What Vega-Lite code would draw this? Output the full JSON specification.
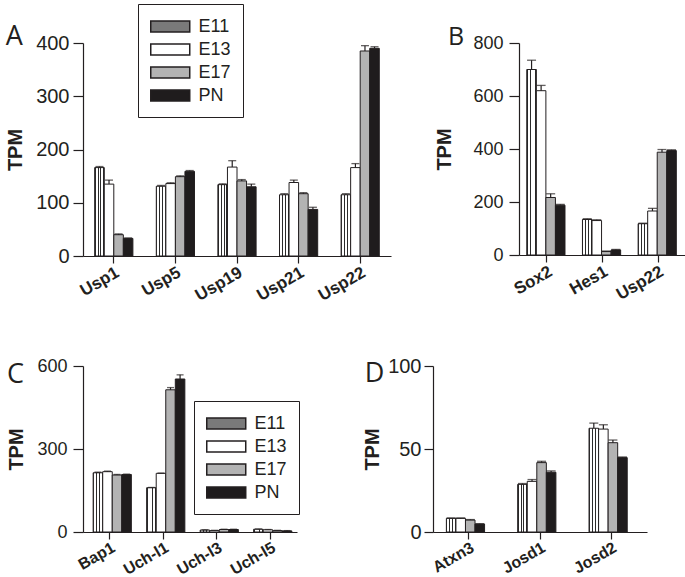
{
  "$schema": "https://vega.github.io/schema/vega-lite/v6.json",
  "padding": {"left": 5, "top": 3, "right": 0, "bottom": 0},
  "background": "white",
  "config": {
    "font": "Liberation Sans",
    "view": {"stroke": null},
    "axis": {"labelFont": "Liberation Sans", "titleFont": "Liberation Sans", "domainColor": "#231f20", "tickColor": "#231f20", "labelColor": "#231f20", "titleColor": "#231f20", "domainWidth": 1.2, "tickWidth": 1.2, "grid": false},
    "axisX": {"labelAngle": -30, "labelAlign": "right", "labelBaseline": "top", "labelFontWeight": "bold", "labelFontSize": 17, "tickSize": 7, "labelPadding": 1, "title": null},
    "axisY": {"labelFontSize": 18, "tickSize": 10, "labelPadding": 5, "titleFontSize": 20, "titleFontWeight": "bold", "titlePadding": 12},
    "title": {"font": "Open Sans", "fontWeight": "normal", "color": "#231f20", "anchor": "start", "frame": "bounds", "baseline": "alphabetic", "offset": 4},
    "legend": {"orient": "none", "strokeColor": "#231f20", "strokeWidth": 1, "padding": 12, "title": null, "labelFont": "Liberation Sans", "labelFontSize": 18, "labelColor": "#231f20", "labelOffset": 27.5, "rowPadding": 3, "symbolType": "M-1,-0.56L3,-0.56L3,0.56L-1,0.56Z", "symbolSize": 380}
  },
  "datasets": {
    "tpm": [
      {"panel": "A", "gene": "Usp1", "stage": "E11", "value": 166, "hi": 168},
      {"panel": "A", "gene": "Usp1", "stage": "E13", "value": 135, "hi": 142.5},
      {"panel": "A", "gene": "Usp1", "stage": "E17", "value": 40, "hi": 41.5},
      {"panel": "A", "gene": "Usp1", "stage": "PN", "value": 33, "hi": 34},
      {"panel": "A", "gene": "Usp5", "stage": "E11", "value": 131, "hi": 132.5},
      {"panel": "A", "gene": "Usp5", "stage": "E13", "value": 136, "hi": 137.5},
      {"panel": "A", "gene": "Usp5", "stage": "E17", "value": 149, "hi": 150.5},
      {"panel": "A", "gene": "Usp5", "stage": "PN", "value": 159, "hi": 160.5},
      {"panel": "A", "gene": "Usp19", "stage": "E11", "value": 134, "hi": 135.5},
      {"panel": "A", "gene": "Usp19", "stage": "E13", "value": 167, "hi": 179},
      {"panel": "A", "gene": "Usp19", "stage": "E17", "value": 141, "hi": 143.5},
      {"panel": "A", "gene": "Usp19", "stage": "PN", "value": 130, "hi": 135},
      {"panel": "A", "gene": "Usp21", "stage": "E11", "value": 115, "hi": 117},
      {"panel": "A", "gene": "Usp21", "stage": "E13", "value": 138, "hi": 142.5},
      {"panel": "A", "gene": "Usp21", "stage": "E17", "value": 117, "hi": 119},
      {"panel": "A", "gene": "Usp21", "stage": "PN", "value": 87.5, "hi": 91.5},
      {"panel": "A", "gene": "Usp22", "stage": "E11", "value": 115, "hi": 117},
      {"panel": "A", "gene": "Usp22", "stage": "E13", "value": 166, "hi": 173.5},
      {"panel": "A", "gene": "Usp22", "stage": "E17", "value": 385, "hi": 395},
      {"panel": "A", "gene": "Usp22", "stage": "PN", "value": 390, "hi": 393},
      {"panel": "B", "gene": "Sox2", "stage": "E11", "value": 700, "hi": 735},
      {"panel": "B", "gene": "Sox2", "stage": "E13", "value": 620, "hi": 640},
      {"panel": "B", "gene": "Sox2", "stage": "E17", "value": 217, "hi": 231},
      {"panel": "B", "gene": "Sox2", "stage": "PN", "value": 188, "hi": 191},
      {"panel": "B", "gene": "Hes1", "stage": "E11", "value": 134, "hi": 137},
      {"panel": "B", "gene": "Hes1", "stage": "E13", "value": 130, "hi": 133},
      {"panel": "B", "gene": "Hes1", "stage": "E17", "value": 13, "hi": 15},
      {"panel": "B", "gene": "Hes1", "stage": "PN", "value": 19, "hi": 21},
      {"panel": "B", "gene": "Usp22", "stage": "E11", "value": 118, "hi": 120},
      {"panel": "B", "gene": "Usp22", "stage": "E13", "value": 166, "hi": 176},
      {"panel": "B", "gene": "Usp22", "stage": "E17", "value": 388, "hi": 398},
      {"panel": "B", "gene": "Usp22", "stage": "PN", "value": 394, "hi": 397},
      {"panel": "C", "gene": "Bap1", "stage": "E11", "value": 214, "hi": 216},
      {"panel": "C", "gene": "Bap1", "stage": "E13", "value": 218, "hi": 220},
      {"panel": "C", "gene": "Bap1", "stage": "E17", "value": 206, "hi": 208},
      {"panel": "C", "gene": "Bap1", "stage": "PN", "value": 208, "hi": 209},
      {"panel": "C", "gene": "Uch-l1", "stage": "E11", "value": 160, "hi": 161},
      {"panel": "C", "gene": "Uch-l1", "stage": "E13", "value": 212, "hi": 213},
      {"panel": "C", "gene": "Uch-l1", "stage": "E17", "value": 514, "hi": 522},
      {"panel": "C", "gene": "Uch-l1", "stage": "PN", "value": 553, "hi": 568},
      {"panel": "C", "gene": "Uch-l3", "stage": "E11", "value": 7, "hi": 8},
      {"panel": "C", "gene": "Uch-l3", "stage": "E13", "value": 5, "hi": 6},
      {"panel": "C", "gene": "Uch-l3", "stage": "E17", "value": 9, "hi": 10},
      {"panel": "C", "gene": "Uch-l3", "stage": "PN", "value": 9, "hi": 10},
      {"panel": "C", "gene": "Uch-l5", "stage": "E11", "value": 10, "hi": 11},
      {"panel": "C", "gene": "Uch-l5", "stage": "E13", "value": 8, "hi": 9},
      {"panel": "C", "gene": "Uch-l5", "stage": "E17", "value": 5, "hi": 6},
      {"panel": "C", "gene": "Uch-l5", "stage": "PN", "value": 4, "hi": 5},
      {"panel": "D", "gene": "Atxn3", "stage": "E11", "value": 8.2, "hi": 8.5},
      {"panel": "D", "gene": "Atxn3", "stage": "E13", "value": 8.2, "hi": 8.5},
      {"panel": "D", "gene": "Atxn3", "stage": "E17", "value": 7.2, "hi": 7.5},
      {"panel": "D", "gene": "Atxn3", "stage": "PN", "value": 4.8, "hi": 5},
      {"panel": "D", "gene": "Josd1", "stage": "E11", "value": 28.7, "hi": 29.2},
      {"panel": "D", "gene": "Josd1", "stage": "E13", "value": 30.5, "hi": 31.6},
      {"panel": "D", "gene": "Josd1", "stage": "E17", "value": 41.8, "hi": 42.6},
      {"panel": "D", "gene": "Josd1", "stage": "PN", "value": 36, "hi": 36.8},
      {"panel": "D", "gene": "Josd2", "stage": "E11", "value": 62.5, "hi": 65.6},
      {"panel": "D", "gene": "Josd2", "stage": "E13", "value": 62, "hi": 64.6},
      {"panel": "D", "gene": "Josd2", "stage": "E17", "value": 53.8, "hi": 55.4},
      {"panel": "D", "gene": "Josd2", "stage": "PN", "value": 44.8, "hi": 45.2}
    ]
  },
  "resolve": {"scale": {"fill": "independent"}, "legend": {"fill": "independent"}},
  "spacing": 52,
  "vconcat": [
    {
      "spacing": 43,
      "resolve": {"scale": {"fill": "independent"}, "legend": {"fill": "independent"}},
      "hconcat": [
        {
          "data": {"name": "tpm"},
          "transform": [{"filter": "datum.panel === 'A'"}],
          "width": 308, "height": 213,
          "title": {"text": "A", "fontSize": 27, "dy": 51},
          "encoding": {"x": {"field": "gene", "type": "nominal", "sort": null, "scale": {"paddingInner": 0.38, "paddingOuter": 0.19}}},
          "layer": [
            {
              "mark": {"type": "bar", "stroke": "#231f20", "strokeWidth": 1},
              "encoding": {
                "xOffset": {"field": "stage", "type": "nominal", "sort": null, "scale": {"paddingInner": 0, "paddingOuter": 0}},
                "y": {"field": "value", "type": "quantitative", "scale": {"domain": [0, 400]}, "axis": {"title": "TPM", "values": [0, 100, 200, 300, 400], "labelFontSize": 20, "labelPadding": 4, "titlePadding": 10}},
                "fill": {"condition": {"test": "datum.stage === 'E11'", "value": {"gradient": "linear", "x1": 0, "y1": 0, "x2": 1, "y2": 0, "stops": [{"offset": 0, "color": "#2b2b2b"}, {"offset": 0.1, "color": "#2b2b2b"}, {"offset": 0.1, "color": "#ffffff"}, {"offset": 0.3, "color": "#ffffff"}, {"offset": 0.3, "color": "#2b2b2b"}, {"offset": 0.4, "color": "#2b2b2b"}, {"offset": 0.4, "color": "#ffffff"}, {"offset": 0.6, "color": "#ffffff"}, {"offset": 0.6, "color": "#2b2b2b"}, {"offset": 0.7, "color": "#2b2b2b"}, {"offset": 0.7, "color": "#ffffff"}, {"offset": 0.9, "color": "#ffffff"}, {"offset": 0.9, "color": "#2b2b2b"}, {"offset": 1, "color": "#2b2b2b"}]}}, "field": "stage", "type": "nominal", "scale": {"domain": ["E11", "E13", "E17", "PN"], "range": ["#7a7a7a", "#ffffff", "#b3b3b3", "#1f1c1d"]}, "legend": {"legendX": 55, "legendY": -39, "encode": {"symbols": {"stroke": {"value": "#231f20"}, "strokeWidth": {"value": 1}}}}}
              }
            },
            {
              "mark": {"type": "rule", "stroke": "#231f20", "strokeWidth": 1.2},
              "encoding": {"xOffset": {"field": "stage", "type": "nominal", "sort": null, "scale": {"paddingInner": 0, "paddingOuter": 0}}, "y": {"field": "value", "type": "quantitative"}, "y2": {"field": "hi"}}
            },
            {
              "mark": {"type": "tick", "orient": "horizontal", "color": "#231f20", "thickness": 1.3, "size": 8},
              "encoding": {"xOffset": {"field": "stage", "type": "nominal", "sort": null, "scale": {"paddingInner": 0, "paddingOuter": 0}}, "y": {"field": "hi", "type": "quantitative"}}
            }
          ]
        },
        {
          "data": {"name": "tpm"},
          "transform": [{"filter": "datum.panel === 'B'"}],
          "width": 167, "height": 212,
          "title": {"text": "B", "fontSize": 25, "dy": 20, "dx": 13},
          "encoding": {"x": {"field": "gene", "type": "nominal", "sort": null, "scale": {"paddingInner": 0.28, "paddingOuter": 0.14}}},
          "layer": [
            {
              "mark": {"type": "bar", "stroke": "#231f20", "strokeWidth": 1},
              "encoding": {
                "xOffset": {"field": "stage", "type": "nominal", "sort": null, "scale": {"paddingInner": 0, "paddingOuter": 0}},
                "y": {"field": "value", "type": "quantitative", "scale": {"domain": [0, 800]}, "axis": {"title": "TPM", "values": [0, 200, 400, 600, 800], "labelPadding": 6, "titlePadding": 18}},
                "fill": {"condition": {"test": "datum.stage === 'E11'", "value": {"gradient": "linear", "x1": 0, "y1": 0, "x2": 1, "y2": 0, "stops": [{"offset": 0, "color": "#2b2b2b"}, {"offset": 0.1, "color": "#2b2b2b"}, {"offset": 0.1, "color": "#ffffff"}, {"offset": 0.3, "color": "#ffffff"}, {"offset": 0.3, "color": "#2b2b2b"}, {"offset": 0.4, "color": "#2b2b2b"}, {"offset": 0.4, "color": "#ffffff"}, {"offset": 0.6, "color": "#ffffff"}, {"offset": 0.6, "color": "#2b2b2b"}, {"offset": 0.7, "color": "#2b2b2b"}, {"offset": 0.7, "color": "#ffffff"}, {"offset": 0.9, "color": "#ffffff"}, {"offset": 0.9, "color": "#2b2b2b"}, {"offset": 1, "color": "#2b2b2b"}]}}, "field": "stage", "type": "nominal", "scale": {"domain": ["E11", "E13", "E17", "PN"], "range": ["#7a7a7a", "#ffffff", "#b3b3b3", "#1f1c1d"]}, "legend": null}
              }
            },
            {
              "mark": {"type": "rule", "stroke": "#231f20", "strokeWidth": 1.2},
              "encoding": {"xOffset": {"field": "stage", "type": "nominal", "sort": null, "scale": {"paddingInner": 0, "paddingOuter": 0}}, "y": {"field": "value", "type": "quantitative"}, "y2": {"field": "hi"}}
            },
            {
              "mark": {"type": "tick", "orient": "horizontal", "color": "#231f20", "thickness": 1.3, "size": 9},
              "encoding": {"xOffset": {"field": "stage", "type": "nominal", "sort": null, "scale": {"paddingInner": 0, "paddingOuter": 0}}, "y": {"field": "hi", "type": "quantitative"}}
            }
          ]
        }
      ]
    },
    {
      "spacing": 62,
      "resolve": {"scale": {"fill": "independent"}, "legend": {"fill": "independent"}},
      "hconcat": [
        {
          "data": {"name": "tpm"},
          "transform": [{"filter": "datum.panel === 'C'"}],
          "width": 214, "height": 166,
          "title": {"text": "C", "fontSize": 27, "dy": 36},
          "encoding": {"x": {"field": "gene", "type": "nominal", "sort": null, "scale": {"paddingInner": 0.38, "paddingOuter": 0.19}, "axis": {"labelFontSize": 16, "labelPadding": 0}}},
          "layer": [
            {
              "mark": {"type": "bar", "stroke": "#231f20", "strokeWidth": 1},
              "encoding": {
                "xOffset": {"field": "stage", "type": "nominal", "sort": null, "scale": {"paddingInner": 0, "paddingOuter": 0}},
                "y": {"field": "value", "type": "quantitative", "scale": {"domain": [0, 600]}, "axis": {"title": "TPM", "values": [0, 300, 600], "labelPadding": 6, "titlePadding": 10}},
                "fill": {"condition": {"test": "datum.stage === 'E11'", "value": {"gradient": "linear", "x1": 0, "y1": 0, "x2": 1, "y2": 0, "stops": [{"offset": 0, "color": "#2b2b2b"}, {"offset": 0.1, "color": "#2b2b2b"}, {"offset": 0.1, "color": "#ffffff"}, {"offset": 0.3, "color": "#ffffff"}, {"offset": 0.3, "color": "#2b2b2b"}, {"offset": 0.4, "color": "#2b2b2b"}, {"offset": 0.4, "color": "#ffffff"}, {"offset": 0.6, "color": "#ffffff"}, {"offset": 0.6, "color": "#2b2b2b"}, {"offset": 0.7, "color": "#2b2b2b"}, {"offset": 0.7, "color": "#ffffff"}, {"offset": 0.9, "color": "#ffffff"}, {"offset": 0.9, "color": "#2b2b2b"}, {"offset": 1, "color": "#2b2b2b"}]}}, "field": "stage", "type": "nominal", "scale": {"domain": ["E11", "E13", "E17", "PN"], "range": ["#7a7a7a", "#ffffff", "#b3b3b3", "#1f1c1d"]}, "legend": {"legendX": 111, "legendY": 35, "encode": {"symbols": {"stroke": {"value": "#231f20"}, "strokeWidth": {"value": 1}}}}}
              }
            },
            {
              "mark": {"type": "rule", "stroke": "#231f20", "strokeWidth": 1.2},
              "encoding": {"xOffset": {"field": "stage", "type": "nominal", "sort": null, "scale": {"paddingInner": 0, "paddingOuter": 0}}, "y": {"field": "value", "type": "quantitative"}, "y2": {"field": "hi"}}
            },
            {
              "mark": {"type": "tick", "orient": "horizontal", "color": "#231f20", "thickness": 1.3, "size": 7},
              "encoding": {"xOffset": {"field": "stage", "type": "nominal", "sort": null, "scale": {"paddingInner": 0, "paddingOuter": 0}}, "y": {"field": "hi", "type": "quantitative"}}
            }
          ]
        },
        {
          "data": {"name": "tpm"},
          "transform": [{"filter": "datum.panel === 'D'"}],
          "width": 214, "height": 166,
          "title": {"text": "D", "fontSize": 27, "dy": 36, "dx": 2},
          "encoding": {"x": {"field": "gene", "type": "nominal", "sort": null, "scale": {"paddingInner": 0.375, "paddingOuter": 0.1875}, "axis": {"labelFontSize": 16, "labelPadding": 0}}},
          "layer": [
            {
              "mark": {"type": "bar", "stroke": "#231f20", "strokeWidth": 1},
              "encoding": {
                "xOffset": {"field": "stage", "type": "nominal", "sort": null, "scale": {"paddingInner": 0, "paddingOuter": 0}},
                "y": {"field": "value", "type": "quantitative", "scale": {"domain": [0, 100]}, "axis": {"title": "TPM", "values": [0, 50, 100], "labelFontSize": 20, "tickSize": 9, "labelPadding": 3, "titlePadding": 5}},
                "fill": {"condition": {"test": "datum.stage === 'E11'", "value": {"gradient": "linear", "x1": 0, "y1": 0, "x2": 1, "y2": 0, "stops": [{"offset": 0, "color": "#2b2b2b"}, {"offset": 0.1, "color": "#2b2b2b"}, {"offset": 0.1, "color": "#ffffff"}, {"offset": 0.3, "color": "#ffffff"}, {"offset": 0.3, "color": "#2b2b2b"}, {"offset": 0.4, "color": "#2b2b2b"}, {"offset": 0.4, "color": "#ffffff"}, {"offset": 0.6, "color": "#ffffff"}, {"offset": 0.6, "color": "#2b2b2b"}, {"offset": 0.7, "color": "#2b2b2b"}, {"offset": 0.7, "color": "#ffffff"}, {"offset": 0.9, "color": "#ffffff"}, {"offset": 0.9, "color": "#2b2b2b"}, {"offset": 1, "color": "#2b2b2b"}]}}, "field": "stage", "type": "nominal", "scale": {"domain": ["E11", "E13", "E17", "PN"], "range": ["#7a7a7a", "#ffffff", "#b3b3b3", "#1f1c1d"]}, "legend": null}
              }
            },
            {
              "mark": {"type": "rule", "stroke": "#231f20", "strokeWidth": 1.2},
              "encoding": {"xOffset": {"field": "stage", "type": "nominal", "sort": null, "scale": {"paddingInner": 0, "paddingOuter": 0}}, "y": {"field": "value", "type": "quantitative"}, "y2": {"field": "hi"}}
            },
            {
              "mark": {"type": "tick", "orient": "horizontal", "color": "#231f20", "thickness": 1.3, "size": 9},
              "encoding": {"xOffset": {"field": "stage", "type": "nominal", "sort": null, "scale": {"paddingInner": 0, "paddingOuter": 0}}, "y": {"field": "hi", "type": "quantitative"}}
            }
          ]
        }
      ]
    }
  ]
}
